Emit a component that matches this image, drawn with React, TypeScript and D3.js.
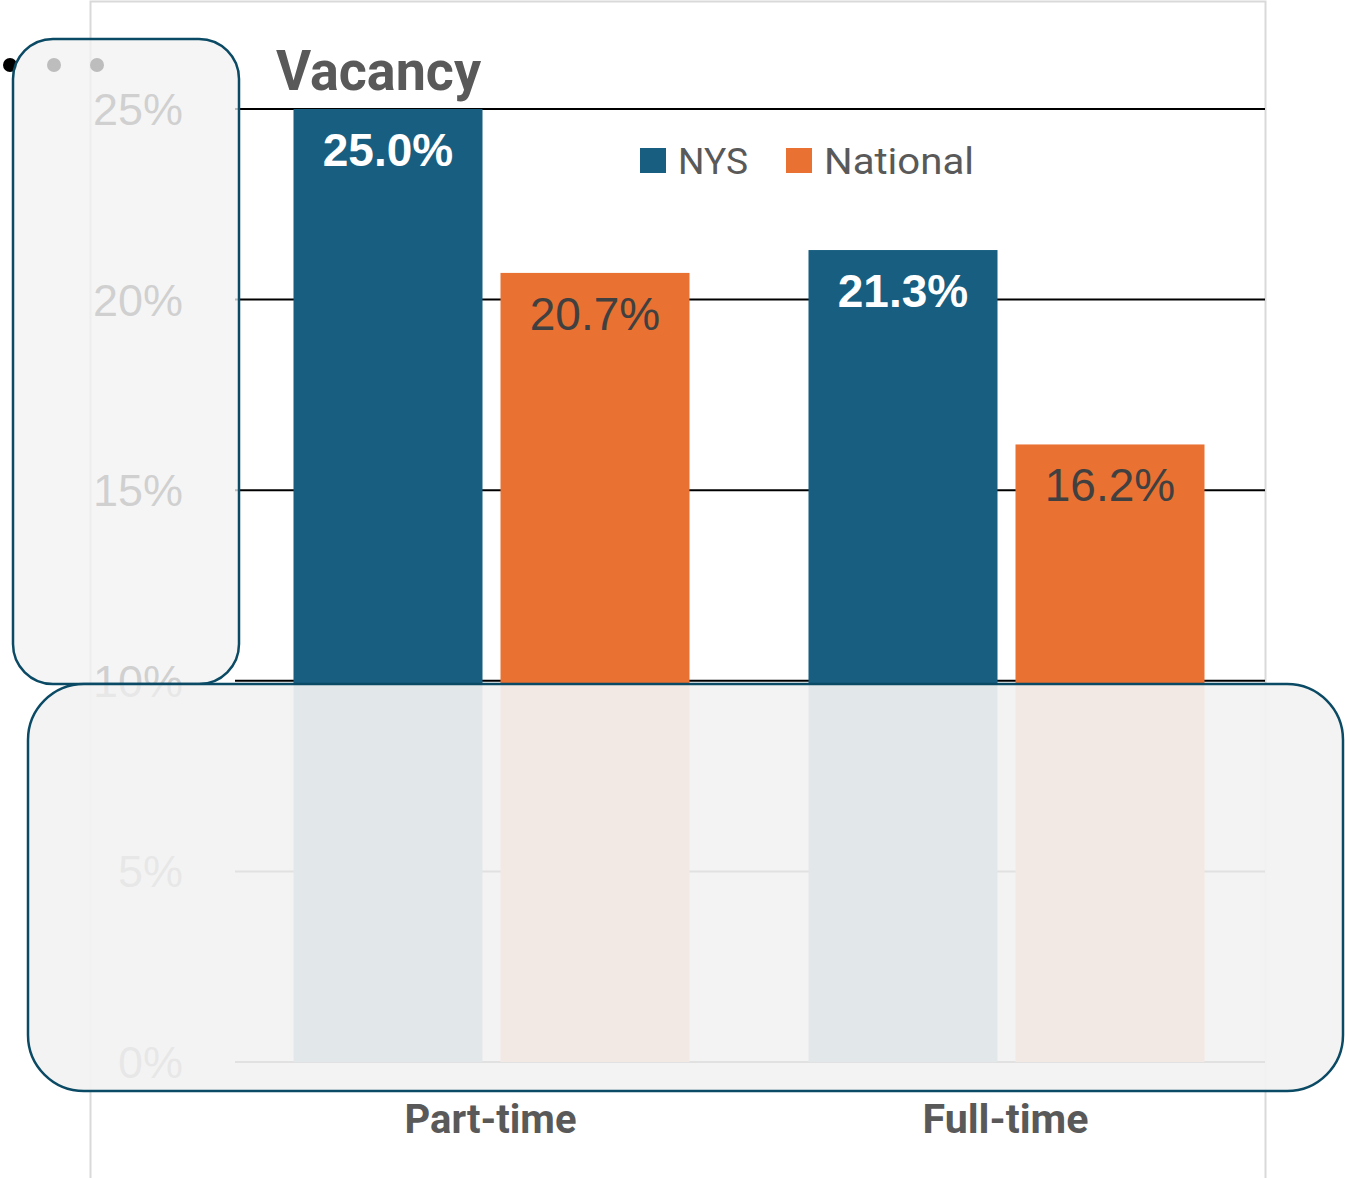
import React from "react";
import * as d3 from "d3";

const categories = ["Part-time", "Full-time"];
const seriesNames = ["NYS", "National"];
const nysValues = [25.0, 21.3];
const nationalValues = [20.7, 16.2];
const yTicks = [0, 5, 10, 15, 20, 25];
const colors = ["#175e80", "#e97132"];

const W = 1345;
const H = 1178;

export default function App() {
  const y = d3.scaleLinear().domain([0, 25]).range([1062, 109]);
  const x0 = d3.scaleBand().domain(categories).range([234, 1264]).paddingInner(0).paddingOuter(0);
  const groupW = 396;
  const x1 = d3.scaleBand().domain(seriesNames).range([0, groupW]).paddingInner(18 / 207);
  const series = [nysValues, nationalValues];
  const fmt = (v: number) => v.toFixed(1) + "%";

  return (
    <svg width={W} height={H} style={{ position: "absolute", left: 0, top: 0 }}>
      <rect x={0} y={0} width={W} height={H} fill="#ffffff" />
      {/* chart frame */}
      <rect x={90.5} y={1.5} width={1175} height={1200} fill="#ffffff" stroke="#d9d9d9" strokeWidth={2} />
      {/* gridlines */}
      {yTicks.map((t) => (
        <line key={t} x1={235} x2={1265} y1={y(t)} y2={y(t)} stroke="#000" strokeWidth={2} />
      ))}
      {/* bars */}
      {categories.map((c, ci) => {
        const gx = (x0(c) as number) + (x0.bandwidth() - groupW) / 2;
        return seriesNames.map((s, si) => {
          const v = series[si][ci];
          const bx = gx + (x1(s) as number);
          return (
            <g key={c + s}>
              <rect x={bx} y={y(v)} width={x1.bandwidth()} height={y(0) - y(v)} fill={colors[si]} />
              <text
                x={bx + x1.bandwidth() / 2}
                y={y(v) + 57}
                textAnchor="middle"
                fontFamily="'Liberation Sans', Arial, sans-serif"
                fontSize={46}
                fontWeight={si === 0 ? "bold" : "normal"}
                fill={si === 0 ? "#ffffff" : "#404040"}
              >
                {fmt(v)}
              </text>
            </g>
          );
        });
      })}
      {/* tick labels */}
      {yTicks.map((t) => (
        <text
          key={"t" + t}
          x={183}
          y={y(t) + 16}
          textAnchor="end"
          fontFamily="'Liberation Sans', Arial, sans-serif"
          fontSize={45}
          fill="#595959"
        >
          {t + "%"}
        </text>
      ))}
      {/* category labels */}
      {categories.map((c, i) => (
        <text
          key={"c" + c}
          x={(x0(c) as number) + x0.bandwidth() / 2 - 1}
          y={1133}
          textAnchor="middle"
          fontFamily="Roboto, sans-serif"
          fontWeight="bold"
          fontSize={40}
          fill="#595959"
          textLength={i === 0 ? 172 : 166}
          lengthAdjust="spacingAndGlyphs"
        >
          {c}
        </text>
      ))}
      {/* title */}
      <text x={276} y={90} fontFamily="Roboto, sans-serif" fontWeight="bold" fontSize={55} fill="#595959" textLength={205} lengthAdjust="spacingAndGlyphs">
        Vacancy
      </text>
      {/* legend */}
      {seriesNames.map((s, i) => {
        const lx = i === 0 ? 640 : 786;
        return (
          <g key={"l" + s}>
            <rect x={lx} y={148} width={26} height={25} fill={colors[i]} />
            <text
              x={lx + 38}
              y={174}
              fontFamily="Roboto, sans-serif"
              fontSize={37}
              fill="#595959"
              textLength={i === 0 ? 70 : 150}
              lengthAdjust="spacingAndGlyphs"
            >
              {s}
            </text>
          </g>
        );
      })}
      {/* dots */}
      {[10, 54, 97].map((cx) => (
        <circle key={"d" + cx} cx={cx} cy={65} r={7} fill="#000" />
      ))}
      {/* overlay boxes */}
      <rect x={13} y={39} width={226} height={645} rx={40} ry={40} fill="#f2f2f2" fillOpacity={0.78} stroke="#0b4a64" strokeWidth={2.5} />
      <rect x={28} y={684} width={1315} height={407} rx={56} ry={56} fill="#f2f2f2" fillOpacity={0.93} stroke="#0b4a64" strokeWidth={2.5} />
    </svg>
  );
}
